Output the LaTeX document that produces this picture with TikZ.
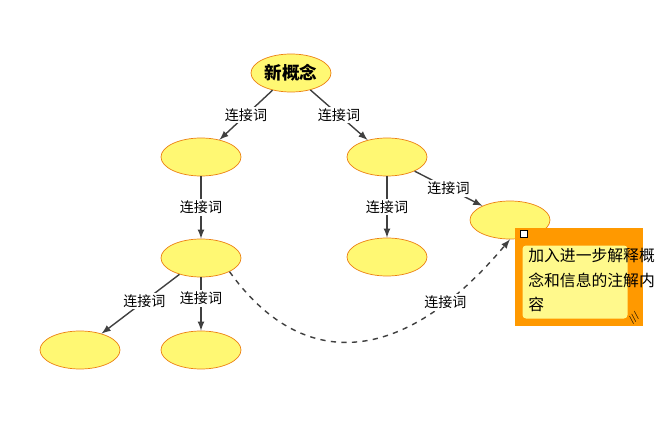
\documentclass[tikz,border=0pt]{standalone}
\usepackage{fontspec}
\setmainfont{Noto Sans CJK SC}
\usetikzlibrary{shapes.geometric,arrows,positioning,backgrounds}
\begin{document}
\begin{tikzpicture}[x=0.02cm,y=-0.02cm,
    concept/.style={ellipse, draw=orange!70!brown, fill=yellow!55, minimum width=80*0.02cm, minimum height=38*0.02cm, inner sep=0pt},
    link/.style={-latex, thick, draw=black!75},
    lbl/.style={fill=white, font=\footnotesize, inner sep=1pt}]

    \useasboundingbox (0,0) rectangle (670,429);

    % Nodes
    \node[concept, font=\bfseries] (root) at (291,73) {新概念};
    \node[concept] (left1) at (201,157) {};
    \node[concept] (right1) at (387,157) {};
    \node[concept] (left2) at (201,258) {};
    \node[concept] (mid2) at (387,257) {};
    \node[concept] (right2) at (510,220) {};
    \node[concept] (left3) at (80,350) {};
    \node[concept] (mid3) at (201,350) {};

    % Note
    \node[rectangle, fill=orange!80!yellow, minimum width=128*0.02cm, minimum height=98*0.02cm] (note) at (579,277) {};
    \node[rectangle, rounded corners=2pt, fill=yellow!45, minimum width=105*0.02cm, minimum height=73*0.02cm] (notebg) at (575,282) {};
    \node[align=left, font=\fontsize{9}{14}\selectfont, anchor=north west, inner sep=0pt] (notetext) at (528,248) {加入进一步解释概\\念和信息的注解内\\容};
    \node[draw=black, fill=white, minimum size=4pt, inner sep=0pt] (noteicon) at (524,234) {};
    \node[font=\tiny, rotate=45] (notegrip) at (634,318) {///};

    % Links
    \draw[link] (root) -- node[lbl] {连接词} (left1);
    \draw[link] (root) -- node[lbl] {连接词} (right1);
    \draw[link] (right1) -- node[lbl] {连接词} (right2);
    \draw[link] (left1) -- node[lbl] {连接词} (left2);
    \draw[link] (right1) -- node[lbl] {连接词} (mid2);
    \draw[link] (left2) -- node[lbl, pos=0.45] {连接词} (left3);
    \draw[link] (left2) -- node[lbl, pos=0.4] {连接词} (mid3);
    \draw[link, dashed] (left2.south east) .. controls (300,370) and (400,370) .. node[lbl, pos=0.8] {连接词} (right2.south);

\end{tikzpicture}
\end{document}
